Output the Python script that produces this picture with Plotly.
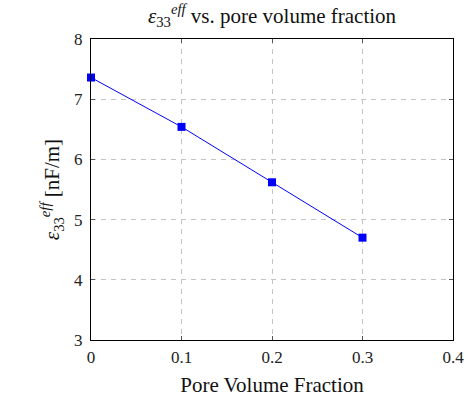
import plotly.graph_objects as go

# Effective permittivity vs. pore volume fraction
pore_fraction = [0.0, 0.1, 0.2, 0.3]
eps33_eff = [7.36, 6.54, 5.62, 4.70]

x_ticks = [0, 0.1, 0.2, 0.3, 0.4]
x_tick_labels = ["0", "0.1", "0.2", "0.3", "0.4"]
y_ticks = [3, 4, 5, 6, 7, 8]

serif = "Times New Roman"

fig = go.Figure()
fig.add_trace(go.Scatter(
    x=pore_fraction, y=eps33_eff,
    mode="lines+markers",
    line=dict(color="#0000ff", width=1),
    marker=dict(symbol="square", size=8, color="#0000ff"),
    cliponaxis=False,
    showlegend=False,
))

axis_common = dict(
    showline=True, linecolor="black", linewidth=1, mirror="allticks",
    ticks="inside", ticklen=4, tickcolor="#555",
    showgrid=True, gridcolor="#c4c4c4", griddash="5px,5px", gridwidth=1,
    zeroline=False, automargin=False,
    tickfont=dict(family=serif, size=17, color="#222"),
)

fig.update_xaxes(
    range=[0, 0.4], tickvals=x_ticks, ticktext=x_tick_labels,
    ticklabelstandoff=2,
    title=dict(text="Pore Volume Fraction", font=dict(family=serif, size=21, color="#111"), standoff=10),
    **axis_common,
)
fig.update_yaxes(
    range=[3, 8], tickvals=y_ticks,
    ticklabelstandoff=4,
    title=dict(text="<i>ε</i><sub>33</sub><sup><i>eff</i></sup> [nF/m]", font=dict(family=serif, size=21, color="#111"), standoff=8),
    **axis_common,
)

fig.update_layout(
    width=468, height=401,
    margin=dict(l=91, r=15, t=39, b=61),
    plot_bgcolor="white", paper_bgcolor="white",
    font=dict(family=serif),
    title=dict(
        text="<i>ε</i><sub>33</sub><sup><i>eff</i></sup> vs. pore volume fraction",
        x=0.5, xref="paper", xanchor="center", y=0.962, yanchor="middle",
        font=dict(family=serif, size=21, color="#111"),
    ),
)

fig.write_html("out.html")
